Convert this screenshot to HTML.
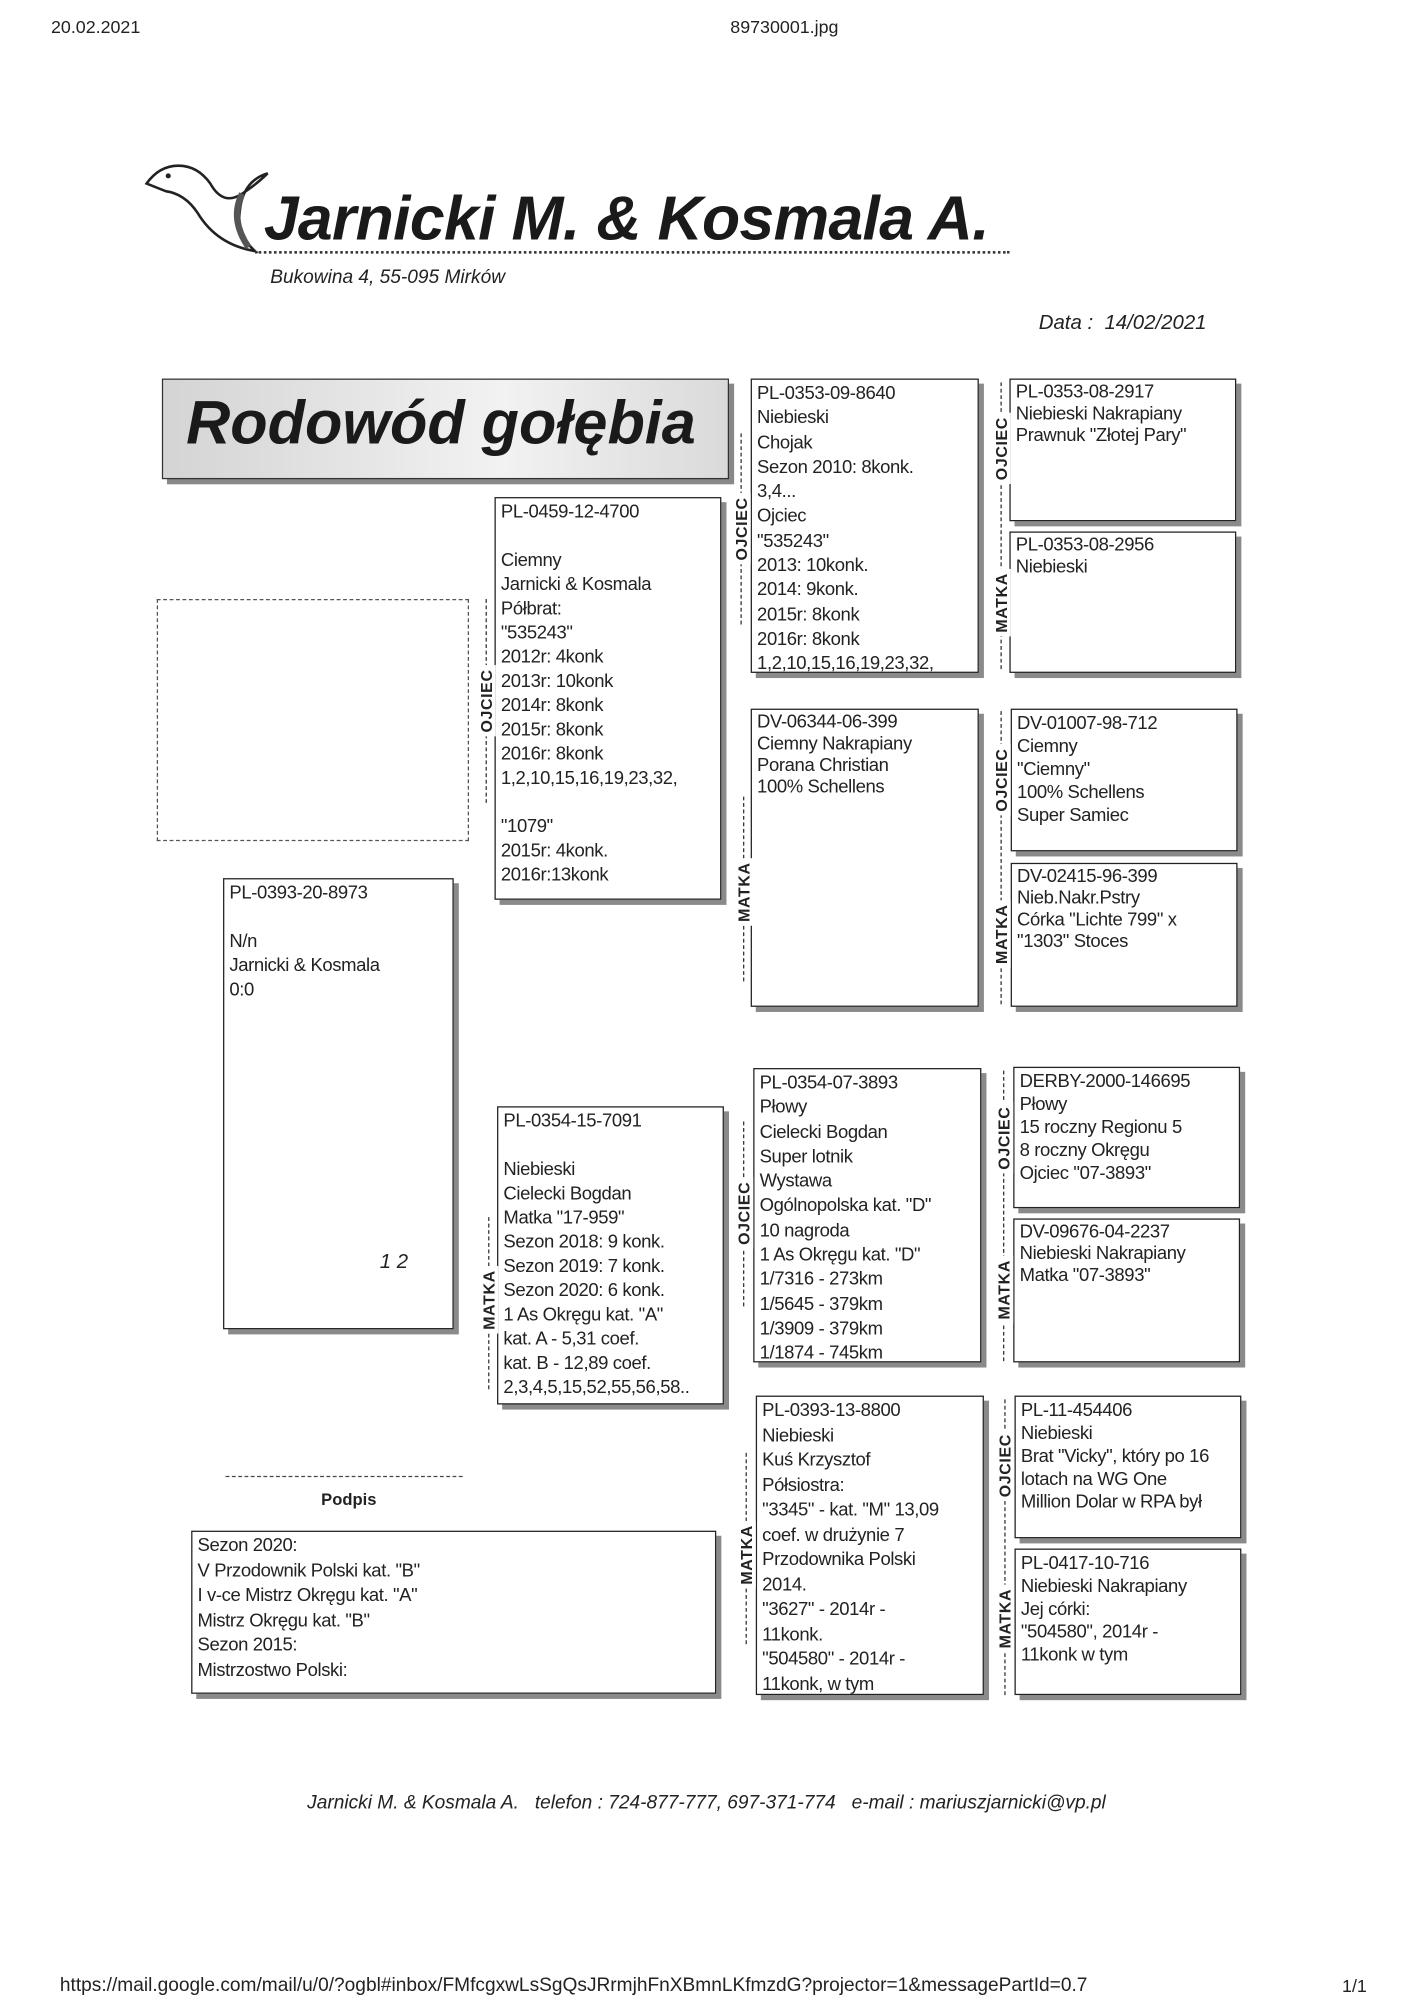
<!DOCTYPE html>
<html><head><meta charset="utf-8"><style>
html,body{margin:0;padding:0;background:#fff;}
body{width:1402px;height:2000px;overflow:hidden;position:relative;}
#w{position:absolute;left:0;top:0;width:1100px;height:1569px;transform:scale(1.2745);transform-origin:0 0;font-family:"Liberation Sans Narrow","Liberation Sans",sans-serif;color:#222;}
.a{position:absolute;white-space:nowrap;}
.box{position:absolute;border:1.3px solid #222;background:#fff;box-shadow:4px 4px 0 #8a8a8a;box-sizing:border-box;padding:2px 4px;font-size:14.5px;letter-spacing:-0.3px;line-height:19px;white-space:nowrap;overflow:hidden;}
.vl{position:absolute;border-left:1.5px dashed #333;width:0;}
.lb{position:absolute;transform:translate(-50%,-50%) rotate(-90deg);font-family:"Liberation Sans",sans-serif;font-weight:bold;font-size:12.5px;background:#fff;padding:0 3px;letter-spacing:0.5px;}
.it{font-style:italic;font-family:"Liberation Sans",sans-serif;}
</style></head><body><div id="w">
<div class="a" style="left:40px;top:13px;font-size:14px;font-family:'Liberation Sans',sans-serif">20.02.2021</div>
<div class="a" style="left:573px;top:13px;font-size:14px;font-family:'Liberation Sans',sans-serif">89730001.jpg</div>

<svg class="a" style="left:110px;top:122px" width="110" height="80" viewBox="0 0 110 80">
<path d="M5 22 Q15 8 30 8 Q45 8 55 22 Q65 40 80 30 Q92 22 100 14 Q80 20 78 45 Q76 62 90 75 Q60 70 45 45 Q35 30 20 28 Z" fill="none" stroke="#222" stroke-width="2"/>
<circle cx="22" cy="16" r="2" fill="#222"/>
<path d="M80 30 Q70 50 85 72" stroke="#555" stroke-width="5" fill="none"/>
</svg>
<div class="a it" style="left:207px;top:144px;font-size:49px;font-weight:bold;color:#1a1a1a;letter-spacing:-0.5px">Jarnicki M. &amp; Kosmala A.</div>
<div class="a" style="left:200px;top:197px;width:592px;border-top:2px dotted #333"></div>
<div class="a it" style="left:212px;top:209px;font-size:15px">Bukowina 4, 55-095 Mirków</div>
<div class="a it" style="left:815px;top:245px;font-size:16px">Data :&nbsp; 14/02/2021</div>

<div class="a" style="left:127px;top:297px;width:445px;height:79px;border:1.5px solid #333;box-sizing:border-box;background:linear-gradient(90deg,#d4d4d4,#f2f2f2 60%,#dadada);box-shadow:4px 4px 0 #888"></div>
<div class="a it" style="left:146px;top:305px;font-size:48px;font-weight:bold;color:#1a1a1a">Rodowód gołębia</div>

<div class="a" style="left:123px;top:470px;width:245px;height:190px;border:1.3px dashed #555;box-sizing:border-box"></div>

<div class="box" style="left:175px;top:689px;width:181px;height:354px">PL-0393-20-8973<br><br>N/n<br>Jarnicki &amp; Kosmala<br>0:0</div>
<div class="a" style="left:298px;top:982px;font-size:16px;font-style:italic">1 2</div>

<div class="a" style="left:177px;top:1158px;width:186px;border-top:1.5px dashed #444"></div>
<div class="a" style="left:252px;top:1169px;font-size:13px;font-weight:bold;font-family:'Liberation Sans',sans-serif">Podpis</div>

<div class="box" style="left:150px;top:1201px;width:412px;height:128px;line-height:19.5px">Sezon 2020:<br>V Przodownik Polski kat. "B"<br>I v-ce Mistrz Okręgu kat. "A"<br>Mistrz Okręgu kat. "B"<br>Sezon 2015:<br>Mistrzostwo Polski:</div>

<div class="box" style="left:388px;top:390px;width:178px;height:316px">PL-0459-12-4700<br><br>Ciemny<br>Jarnicki &amp; Kosmala<br>Półbrat:<br>"535243"<br>2012r: 4konk<br>2013r: 10konk<br>2014r: 8konk<br>2015r: 8konk<br>2016r: 8konk<br>1,2,10,15,16,19,23,32,<br><br>"1079"<br>2015r: 4konk.<br>2016r:13konk</div>
<div class="vl" style="left:381px;top:470px;height:160px"></div><div class="lb" style="left:382px;top:550px">OJCIEC</div>

<div class="box" style="left:390px;top:868px;width:178px;height:234px">PL-0354-15-7091<br><br>Niebieski<br>Cielecki Bogdan<br>Matka "17-959"<br>Sezon 2018: 9 konk.<br>Sezon 2019: 7 konk.<br>Sezon 2020: 6 konk.<br>1 As Okręgu kat. "A"<br>kat. A - 5,31 coef.<br>kat. B - 12,89 coef.<br>2,3,4,5,15,52,55,56,58..</div>
<div class="vl" style="left:383px;top:955px;height:135px"></div><div class="lb" style="left:384px;top:1020px">MATKA</div>

<div class="box" style="left:589px;top:297px;width:179px;height:231px;line-height:19.3px">PL-0353-09-8640<br>Niebieski<br>Chojak<br>Sezon 2010: 8konk.<br>3,4...<br>Ojciec<br>"535243"<br>2013: 10konk.<br>2014: 9konk.<br>2015r: 8konk<br>2016r: 8konk<br>1,2,10,15,16,19,23,32,</div>
<div class="vl" style="left:581px;top:340px;height:150px"></div><div class="lb" style="left:582px;top:415px">OJCIEC</div>

<div class="box" style="left:589px;top:556px;width:179px;height:234px;line-height:17px">DV-06344-06-399<br>Ciemny Nakrapiany<br>Porana Christian<br>100% Schellens</div>
<div class="vl" style="left:583px;top:625px;height:145px"></div><div class="lb" style="left:584px;top:700px">MATKA</div>

<div class="box" style="left:591px;top:838px;width:179px;height:231px;line-height:19.3px">PL-0354-07-3893<br>Płowy<br>Cielecki Bogdan<br>Super lotnik<br>Wystawa<br>Ogólnopolska kat. "D"<br>10 nagroda<br>1 As Okręgu kat. "D"<br>1/7316 - 273km<br>1/5645 - 379km<br>1/3909 - 379km<br>1/1874 - 745km</div>
<div class="vl" style="left:583px;top:880px;height:145px"></div><div class="lb" style="left:584px;top:952px">OJCIEC</div>

<div class="box" style="left:593px;top:1095px;width:179px;height:235px;line-height:19.5px">PL-0393-13-8800<br>Niebieski<br>Kuś Krzysztof<br>Półsiostra:<br>"3345" - kat. "M" 13,09<br>coef. w drużynie 7<br>Przodownika Polski<br>2014.<br>"3627" - 2014r -<br>11konk.<br>"504580" - 2014r -<br>11konk, w tym</div>
<div class="vl" style="left:585px;top:1140px;height:150px"></div><div class="lb" style="left:586px;top:1220px">MATKA</div>

<div class="box" style="left:792px;top:297px;width:178px;height:112px;line-height:17px">PL-0353-08-2917<br>Niebieski Nakrapiany<br>Prawnuk "Złotej Pary"</div>
<div class="box" style="left:792px;top:417px;width:178px;height:111px;line-height:17px">PL-0353-08-2956<br>Niebieski</div>
<div class="vl" style="left:785px;top:300px;height:225px"></div>
<div class="lb" style="left:786px;top:352px">OJCIEC</div><div class="lb" style="left:786px;top:473px">MATKA</div>

<div class="box" style="left:793px;top:556px;width:178px;height:112px;line-height:18px">DV-01007-98-712<br>Ciemny<br>"Ciemny"<br>100% Schellens<br>Super Samiec</div>
<div class="box" style="left:793px;top:677px;width:178px;height:113px;line-height:17px">DV-02415-96-399<br>Nieb.Nakr.Pstry<br>Córka "Lichte 799" x<br>"1303" Stoces</div>
<div class="vl" style="left:785px;top:558px;height:230px"></div>
<div class="lb" style="left:786px;top:612px">OJCIEC</div><div class="lb" style="left:786px;top:733px">MATKA</div>

<div class="box" style="left:795px;top:837px;width:178px;height:111px;line-height:18px">DERBY-2000-146695<br>Płowy<br>15 roczny Regionu 5<br>8 roczny Okręgu<br>Ojciec "07-3893"</div>
<div class="box" style="left:795px;top:956px;width:178px;height:113px;line-height:17px">DV-09676-04-2237<br>Niebieski Nakrapiany<br>Matka "07-3893"</div>
<div class="vl" style="left:787px;top:840px;height:228px"></div>
<div class="lb" style="left:788px;top:893px">OJCIEC</div><div class="lb" style="left:788px;top:1012px">MATKA</div>

<div class="box" style="left:796px;top:1095px;width:178px;height:112px;line-height:18px">PL-11-454406<br>Niebieski<br>Brat "Vicky", który po 16<br>lotach na WG One<br>Million Dolar w RPA był</div>
<div class="box" style="left:796px;top:1215px;width:178px;height:115px;line-height:18px">PL-0417-10-716<br>Niebieski Nakrapiany<br>Jej córki:<br>"504580", 2014r -<br>11konk w tym</div>
<div class="vl" style="left:788px;top:1098px;height:232px"></div>
<div class="lb" style="left:789px;top:1150px">OJCIEC</div><div class="lb" style="left:789px;top:1270px">MATKA</div>

<div class="a it" style="left:241px;top:1406px;font-size:15px">Jarnicki M. &amp; Kosmala A.&nbsp;&nbsp; telefon : 724-877-777, 697-371-774&nbsp;&nbsp; e-mail : mariuszjarnicki@vp.pl</div>
<div class="a" style="left:47px;top:1549px;font-size:15px;font-family:'Liberation Sans',sans-serif">https://mail.google.com/mail/u/0/?ogbl#inbox/FMfcgxwLsSgQsJRrmjhFnXBmnLKfmzdG?projector=1&amp;messagePartId=0.7</div>
<div class="a" style="left:1053px;top:1550px;font-size:14px;font-family:'Liberation Sans',sans-serif">1/1</div>
</div></body></html>
